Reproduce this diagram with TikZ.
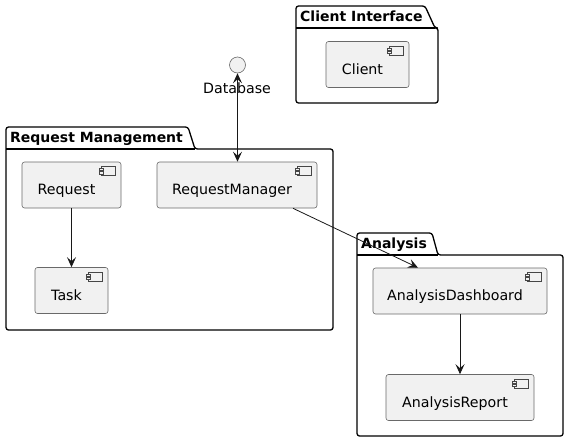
\documentclass[tikz,border=0pt]{standalone}
\usepackage{fontspec}
\setmainfont{DejaVu Sans}
\usetikzlibrary{arrows.meta}
\definecolor{compfill}{HTML}{F1F1F1}
\definecolor{compline}{HTML}{181818}
\tikzset{
  myt/.tip={Stealth[length=10pt,width=9pt,inset=4pt]},
  compbox/.style={draw=compline!65, fill=compfill, line width=0.6pt, rounded corners=2.5pt, inner sep=0pt},
  comptext/.style={font=\fontsize{14.2}{16}\selectfont, inner sep=0pt, anchor=base},
  pkgline/.style={draw=black, line width=1.3pt, line join=round, rounded corners=2.5pt},
  pkgsep/.style={draw=black, line width=1.3pt},
  pkgtitle/.style={font=\bfseries\fontsize{14}{16}\selectfont, anchor=base west, inner sep=0pt},
  conn/.style={draw=compline, line width=0.8pt, -{myt}},
  iconline/.style={draw=compline!80, line width=0.5pt, fill=compfill},
}
\newcommand\mycomp[6]{% name, x, y, w, h, text
  \node[compbox, minimum width=#4pt, minimum height=#5pt] (#1) at (#2,#3) {};
  \node[comptext] (#1-t) at ([xshift=-5pt,yshift=-9.5pt]#1.center) {#6};
  \draw[iconline] ([xshift=-20pt,yshift=-5pt]#1.north east) rectangle ([xshift=-6pt,yshift=-14pt]#1.north east);
  \draw[iconline] ([xshift=-22.5pt,yshift=-6.8pt]#1.north east) rectangle ([xshift=-18pt,yshift=-9pt]#1.north east);
  \draw[iconline] ([xshift=-22.5pt,yshift=-10pt]#1.north east) rectangle ([xshift=-18pt,yshift=-12.2pt]#1.north east);
}
\begin{document}
\begin{tikzpicture}[x=1pt,y=-1pt]
\useasboundingbox (0,0) rectangle (569,442);
% packages
\draw[pkgline] (296,103) -- (296,6) -- (425,6) -- (435,28) -- (438,28) -- (438,103) -- cycle;
\draw[pkgsep] (296,28) -- (435,28);
\node[pkgtitle] (pc) at (300,21) {Client Interface};

\draw[pkgline] (6,330) -- (6,127) -- (188,127) -- (195,149) -- (333,149) -- (333,330) -- cycle;
\draw[pkgsep] (6,149) -- (195,149);
\node[pkgtitle] (pr) at (10,142) {Request Management};

\draw[pkgline] (357,436) -- (357,233) -- (432,233) -- (438,255) -- (563,255) -- (563,436) -- cycle;
\draw[pkgsep] (357,255) -- (438,255);
\node[pkgtitle] (pa) at (361,248) {Analysis};

% components
\mycomp{client}{367.5}{64.5}{83}{46}{Client}
\mycomp{request}{71.5}{185}{99}{46}{Request}
\mycomp{rm}{237}{185}{160}{46}{RequestManager}
\mycomp{task}{71.5}{290.5}{73}{46}{Task}
\mycomp{ad}{460}{291}{174}{46}{AnalysisDashboard}
\mycomp{ar}{460}{397.5}{148}{46}{AnalysisReport}

% interface
\node[circle, draw=compline!65, fill=compfill, line width=0.6pt, minimum size=16pt, inner sep=0pt] (db) at (237.5,65) {};
\node[comptext] (dbl) at (237,93) {Database};

% connectors
\draw[conn, {myt}-{myt}] (db.south) -- (rm.north -| db.south);
\draw[conn] (request.south) -- (task.north -| request.south);
\draw[conn] ([xshift=56pt]rm.south) -- ([xshift=-42pt]ad.north);
\draw[conn] (ad.south) -- (ar.north);
\end{tikzpicture}
\end{document}
